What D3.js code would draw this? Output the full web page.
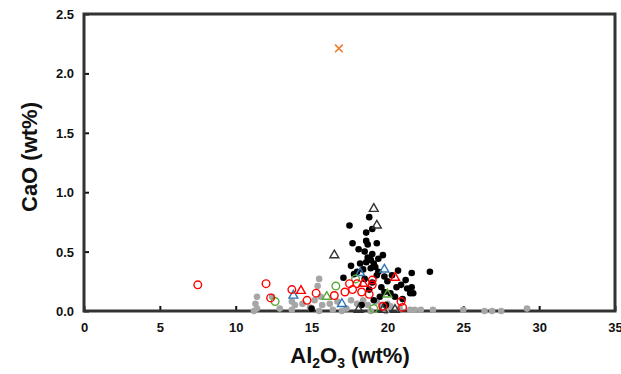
<!DOCTYPE html>
<html>
<head>
<meta charset="utf-8">
<script src="https://cdn.jsdelivr.net/npm/d3@7"></script>
<style>
  body { margin: 0; background: #fff; }
  text { font-family: "Liberation Sans Narrow", "Arial Narrow", "Liberation Sans", Arial, sans-serif; font-weight: bold; }
</style>
</head>
<body>
<div id="chart"></div>
<script>
const width = 621;
const height = 374;

// data: [Al2O3, CaO]
const grayDots = [
  [15.5, 0.27], [15.4, 0.21], [11.4, 0.12], [11.3, 0.06], [11.4, 0.02], [11.2, 0.0], [12.9, 0.02],
  [13.7, 0.08], [13.9, 0.05], [13.7, 0.01], [14.4, 0.06], [15.2, 0.09], [15.6, 0.12], [15.7, 0.05],
  [15.5, 0.0], [16.2, 0.06], [16.7, 0.08], [16.4, 0.01], [17.6, 0.09], [18.0, 0.06], [17.3, 0.02],
  [18.4, 0.09], [18.7, 0.05], [19.3, 0.08], [19.6, 0.05], [20.0, 0.06], [20.2, 0.04], [18.9, 0.0],
  [20.8, 0.02], [21.5, 0.01], [21.8, 0.01], [22.2, 0.01], [23.0, 0.01], [25.0, 0.01], [26.4, 0.0],
  [26.9, 0.0], [27.5, 0.0], [29.2, 0.02], [12.4, 0.12], [14.9, 0.03], [17.0, 0.0], [19.9, 0.0]
];
const blackDots = [
  [18.8, 0.79], [17.5, 0.72], [18.6, 0.66], [19.0, 0.69], [17.7, 0.57], [18.6, 0.59], [18.7, 0.56],
  [19.3, 0.57], [18.1, 0.52], [19.7, 0.47], [18.7, 0.45], [18.9, 0.43], [18.6, 0.41], [19.1, 0.40],
  [17.6, 0.38], [19.2, 0.37], [20.7, 0.34], [21.6, 0.32], [22.8, 0.33], [17.1, 0.28], [17.8, 0.31],
  [19.3, 0.30], [19.8, 0.29], [21.2, 0.26], [20.6, 0.20], [21.3, 0.19], [21.5, 0.15], [19.6, 0.20],
  [19.8, 0.16], [20.2, 0.15], [19.1, 0.09], [19.5, 0.12], [21.6, 0.20], [21.7, 0.15], [15.0, 0.02],
  [18.4, 0.35], [18.9, 0.36], [19.4, 0.33], [18.2, 0.40], [19.0, 0.48], [18.5, 0.50], [19.4, 0.44],
  [18.0, 0.33], [20.0, 0.25], [20.3, 0.30], [20.9, 0.22], [19.0, 0.24], [18.5, 0.27], [20.5, 0.12],
  [21.0, 0.10], [19.9, 0.05], [18.8, 0.18], [18.3, 0.05]
];
const redCircles = [
  [7.5, 0.22], [12.0, 0.23], [12.3, 0.11], [13.7, 0.18], [14.7, 0.09], [15.3, 0.15], [16.5, 0.13],
  [17.2, 0.16], [17.5, 0.23], [17.7, 0.18], [18.0, 0.23], [18.3, 0.16], [18.8, 0.14], [19.0, 0.26],
  [19.0, 0.22], [19.7, 0.04], [20.9, 0.08], [21.0, 0.03]
];
const greenCircles = [[12.6, 0.08], [16.6, 0.21], [17.9, 0.27], [19.1, 0.02]];
const redTriangles = [[14.3, 0.17], [18.4, 0.23], [20.5, 0.28]];
const greenTriangles = [[16.0, 0.12], [20.0, 0.14]];
const blueTriangles = [[13.8, 0.13], [17.0, 0.06], [18.2, 0.32], [19.8, 0.35]];
const darkTriangles = [[19.1, 0.86], [19.3, 0.72], [16.5, 0.47], [18.1, 0.01], [19.7, 0.01], [20.5, 0.01]];
const orangeCross = [[16.8, 2.21]];

const xTicks = [0, 5, 10, 15, 20, 25, 30, 35];
const yTicks = [0, 0.5, 1.0, 1.5, 2.0, 2.5];

const x = d3.scaleLinear().domain([0, 35]).range([84, 615]);
const y = d3.scaleLinear().domain([0, 2.5]).range([311, 14]);

const svg = d3.select("#chart").append("svg")
  .attr("width", width)
  .attr("height", height);

// axes with inward ticks
const xAxis = svg.append("g")
  .attr("transform", `translate(0,${y(0)})`)
  .call(d3.axisBottom(x).tickValues(xTicks).tickSizeInner(-5).tickSizeOuter(0).tickPadding(12).tickFormat(d3.format("d")));
const yAxis = svg.append("g")
  .attr("transform", `translate(${x(0)},0)`)
  .call(d3.axisLeft(y).tickValues(yTicks).tickSizeInner(-5).tickSizeOuter(0).tickPadding(10).tickFormat(d3.format(".1f")));

[xAxis, yAxis].forEach(g => {
  g.select(".domain").remove();
  g.selectAll(".tick line").attr("stroke", "#111").attr("stroke-width", 2);
  g.selectAll(".tick text").attr("fill", "#111").style("font-size", "13px");
});
yAxis.selectAll(".tick text").attr("dy", "0.35em");

// frame
svg.append("rect")
  .attr("x", x(0))
  .attr("y", y(2.5))
  .attr("width", x(35) - x(0))
  .attr("height", y(0) - y(2.5))
  .attr("fill", "none")
  .attr("stroke", "#333")
  .attr("stroke-width", 3);

// markers
const plot = svg.append("g");

plot.selectAll(".gray").data(grayDots).enter().append("circle")
  .attr("cx", d => x(d[0])).attr("cy", d => y(d[1])).attr("r", 3.3)
  .attr("fill", "#a6a6a6");

plot.selectAll(".black").data(blackDots).enter().append("circle")
  .attr("cx", d => x(d[0])).attr("cy", d => y(d[1])).attr("r", 3.3)
  .attr("fill", "#000");

const tri = d3.symbol().type(d3.symbolTriangle).size(34);

function triangles(data, color) {
  plot.append("g").selectAll("path").data(data).enter().append("path")
    .attr("d", tri)
    .attr("transform", d => `translate(${x(d[0])},${y(d[1])})`)
    .attr("fill", "none")
    .attr("stroke", color)
    .attr("stroke-width", 1.4);
}
function rings(data, color) {
  plot.append("g").selectAll("circle").data(data).enter().append("circle")
    .attr("cx", d => x(d[0])).attr("cy", d => y(d[1])).attr("r", 3.8)
    .attr("fill", "none")
    .attr("stroke", color)
    .attr("stroke-width", 1.4);
}

triangles(darkTriangles, "#333");
triangles(blueTriangles, "#2e75b6");
triangles(greenTriangles, "#5aa83a");
rings(greenCircles, "#5aa83a");
rings(redCircles, "#ff0000");
triangles(redTriangles, "#ff0000");

plot.append("g").selectAll("path").data(orangeCross).enter().append("path")
  .attr("d", d3.symbol().type(d3.symbolTimes).size(40))
  .attr("transform", d => `translate(${x(d[0])},${y(d[1])})`)
  .attr("fill", "none")
  .attr("stroke", "#ed7d31")
  .attr("stroke-width", 1.6);

// axis titles
const xTitle = svg.append("text")
  .attr("x", 350)
  .attr("y", 363)
  .attr("text-anchor", "middle")
  .style("font-size", "22px")
  .attr("fill", "#111");
xTitle.append("tspan").text("Al");
xTitle.append("tspan").text("2").attr("dy", 5).style("font-size", "14px");
xTitle.append("tspan").text("O").attr("dy", -5);
xTitle.append("tspan").text("3").attr("dy", 5).style("font-size", "14px");
xTitle.append("tspan").text(" (wt%)").attr("dy", -5);

svg.append("text")
  .attr("transform", "translate(37,157) rotate(-90)")
  .attr("text-anchor", "middle")
  .style("font-size", "22px")
  .attr("fill", "#111")
  .text("CaO (wt%)");
</script>
</body>
</html>
